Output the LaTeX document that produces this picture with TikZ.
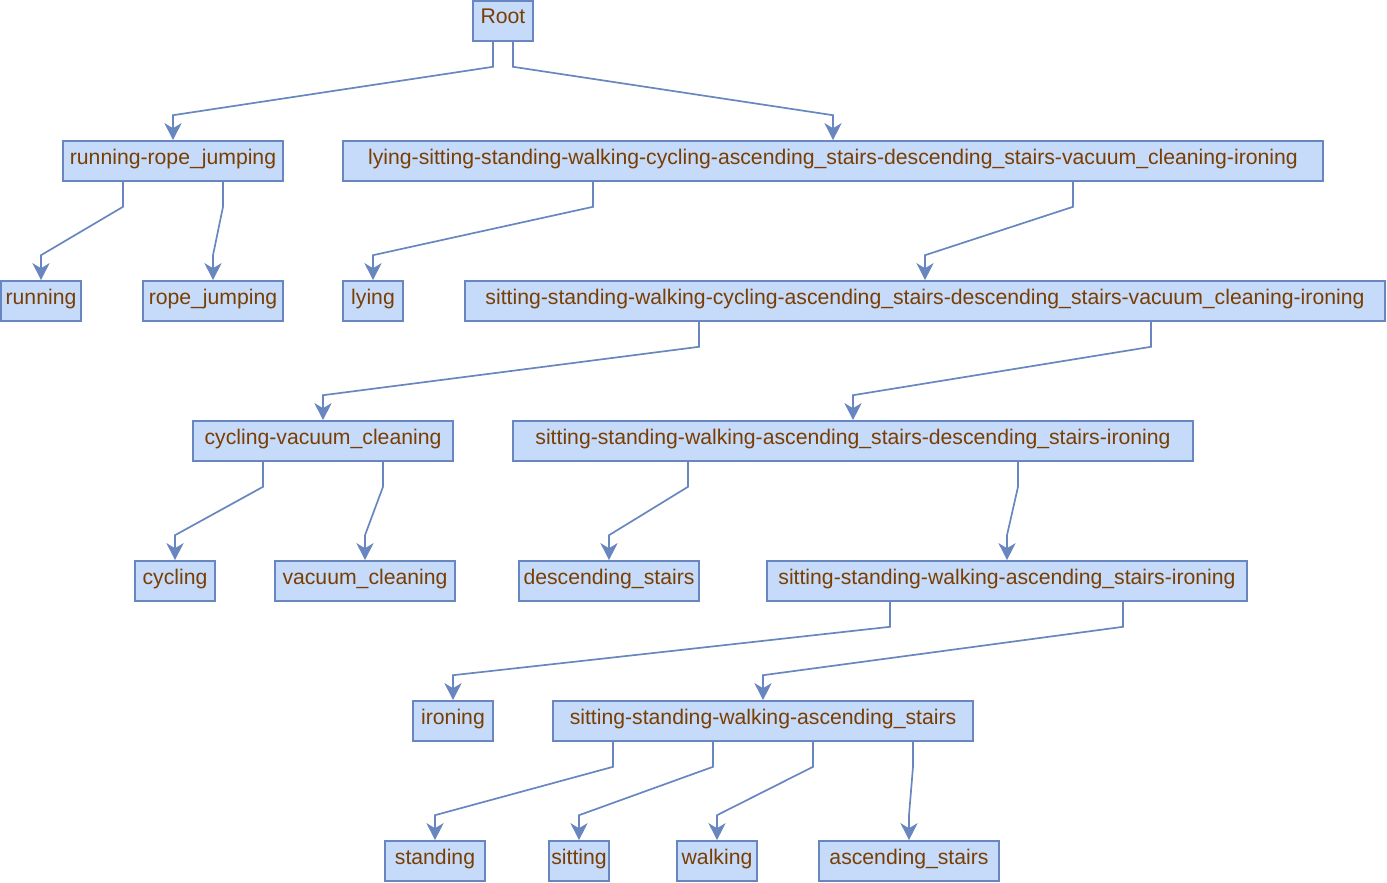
\documentclass[tikz,border=0pt]{standalone}
\usepackage{fontspec}
\setmainfont{Liberation Sans}
\usetikzlibrary{arrows.meta}

\definecolor{boxfill}{RGB}{198,218,250}
\definecolor{boxline}{RGB}{104,134,192}
\definecolor{labelbrown}{RGB}{122,62,0}

\tikzset{
  cls/.style={draw=boxline, fill=boxfill, line width=0.8pt, text=labelbrown,
    inner xsep=0pt, inner ysep=0pt, text height=11.5pt, text depth=8.5pt,
    minimum width=#1, font=\fontsize{10.6}{12}\selectfont},
  edge/.style={draw=boxline, line width=0.85pt,
    -{Stealth[length=8.5pt,width=8.5pt,inset=2.5pt]}}
}

\begin{document}
\begin{tikzpicture}[x=0.5pt, y=-0.5pt]
    % Page frame
    \useasboundingbox (0,0) rectangle (1387,883);

    % Level 0
    \node[cls=30pt] (root) at (503,21) {Root};

    % Level 1
    \node[cls=110pt] (rrj) at (173,161) {running-rope\_jumping};
    \node[cls=490pt] (lsw9) at (833,161) {lying-sitting-standing-walking-cycling-ascending\_stairs-descending\_stairs-vacuum\_cleaning-ironing};

    % Level 2
    \node[cls=40pt] (running) at (41,301) {running};
    \node[cls=70pt] (rope) at (213,301) {rope\_jumping};
    \node[cls=30pt] (lying) at (373,301) {lying};
    \node[cls=460pt] (ssw8) at (925,301) {sitting-standing-walking-cycling-ascending\_stairs-descending\_stairs-vacuum\_cleaning-ironing};

    % Level 3
    \node[cls=130pt] (cvc) at (323,441) {cycling-vacuum\_cleaning};
    \node[cls=340pt] (ssw6) at (853,441) {sitting-standing-walking-ascending\_stairs-descending\_stairs-ironing};

    % Level 4
    \node[cls=40pt] (cycling) at (175,581) {cycling};
    \node[cls=90pt] (vacuum) at (365,581) {vacuum\_cleaning};
    \node[cls=90pt] (desc) at (609,581) {descending\_stairs};
    \node[cls=240pt] (ssw5) at (1007,581) {sitting-standing-walking-ascending\_stairs-ironing};

    % Level 5
    \node[cls=40pt] (ironing) at (453,721) {ironing};
    \node[cls=210pt] (ssw4) at (763,721) {sitting-standing-walking-ascending\_stairs};

    % Level 6
    \node[cls=50pt] (standing) at (435,861) {standing};
    \node[cls=30pt] (sitting) at (579,861) {sitting};
    \node[cls=40pt] (walking) at (717,861) {walking};
    \node[cls=90pt] (asc) at (909,861) {ascending\_stairs};

    % Connectors: parent / exit offset (pt) / child
    \foreach \p/\dx/\c in {root/-5/rrj, root/5/lsw9,
        rrj/-25/running, rrj/25/rope,
        lsw9/-120/lying, lsw9/120/ssw8,
        ssw8/-113/cvc, ssw8/113/ssw6,
        cvc/-30/cycling, cvc/30/vacuum,
        ssw6/-82.5/desc, ssw6/82.5/ssw5,
        ssw5/-58.5/ironing, ssw5/58/ssw4,
        ssw4/-75/standing, ssw4/-25/sitting, ssw4/25/walking, ssw4/75/asc}
        \draw[edge] ([xshift=\dx pt]\p.south) -- ++(0,-12.5pt)
            -- ([yshift=12.5pt]\c.north) -- (\c.north);
\end{tikzpicture}
\end{document}
